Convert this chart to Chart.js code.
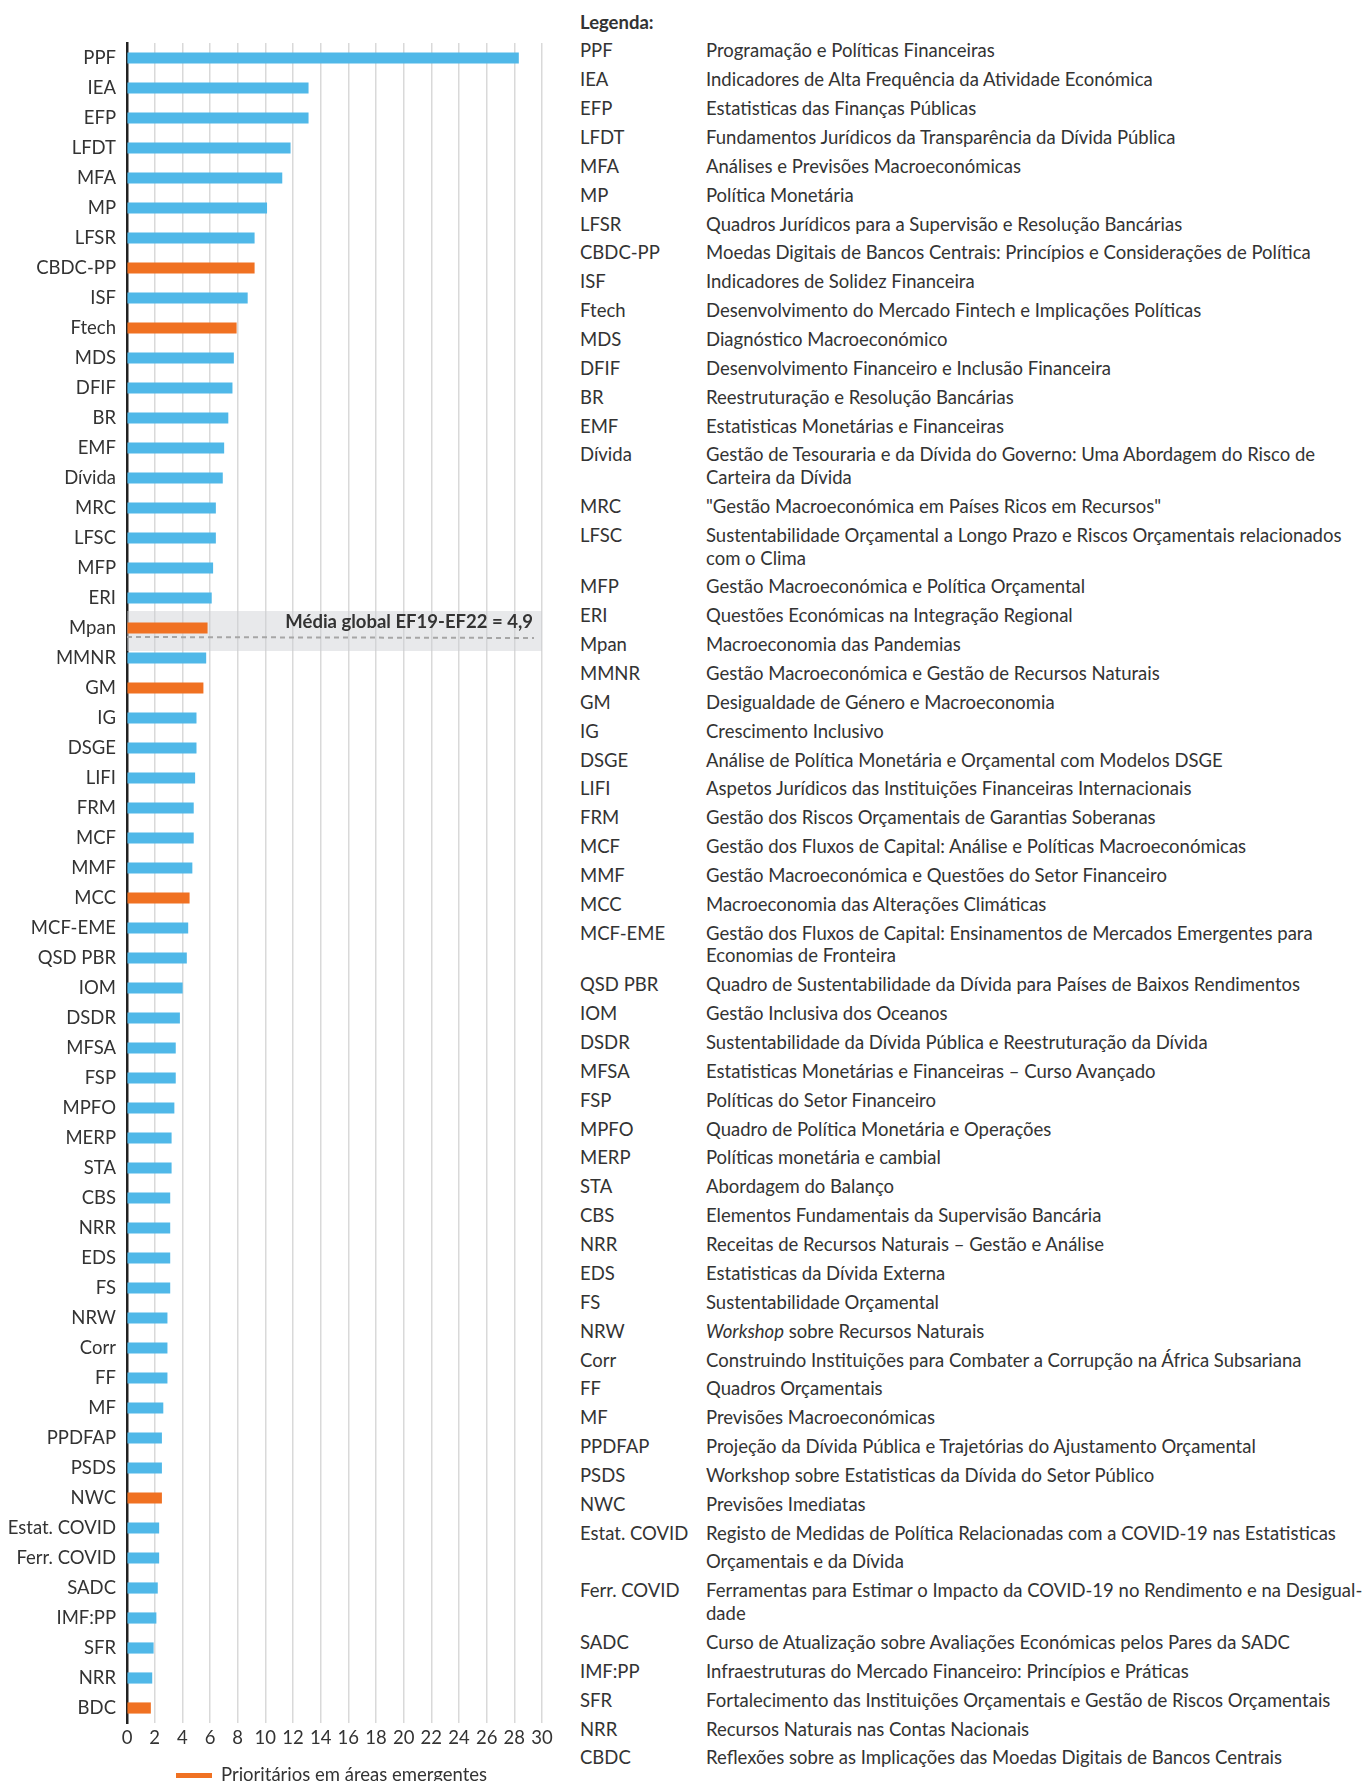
<!DOCTYPE html>
<html lang="pt">
<head>
    <meta charset="UTF-8">
    <title>Cursos por área</title>
    <script src="https://cdn.jsdelivr.net/npm/chart.js"></script>
    <style>
        body {
            margin: 0;
            background: #fff;
            font-family: Lato, "Noto Sans", sans-serif;
            color: #333;
        }

        .page {
            position: relative;
            width: 1364px;
            height: 1781px;
            overflow: hidden;
        }

        .chart-box {
            position: absolute;
            left: 0;
            top: 0;
        }

        .key {
            position: absolute;
            left: 580px;
            top: 7.5px;
            font-size: 18.5px;
        }

        .key-row {
            display: flex;
            line-height: 22.7px;
            padding: 3.08px 0;
            white-space: pre;
        }

        .key-row.tall {
            line-height: 28.86px;
            padding: 0;
        }

        .key-code {
            width: 126px;
            flex: none;
        }

        .key-title {
            font-weight: bold;
        }

        .note {
            position: absolute;
            left: 176px;
            top: 1761px;
            font-size: 18.5px;
            line-height: 26px;
            white-space: nowrap;
        }

        .note span.swatch {
            display: inline-block;
            width: 36px;
            height: 5px;
            background: #f07122;
            vertical-align: middle;
            margin-right: 9px;
            position: relative;
            top: -1px;
        }
    </style>
</head>
<body>
<div class="page">
    <div class="chart-box">
        <canvas id="courseChart" width="575" height="1781"></canvas>
    </div>
    <div class="key" id="key"></div>
    <div class="note"><span class="swatch"></span>Prioritários em áreas emergentes</div>
</div>

<script>
    // dados
    const courses = ['PPF', 'IEA', 'EFP', 'LFDT', 'MFA', 'MP', 'LFSR', 'CBDC-PP', 'ISF', 'Ftech',
        'MDS', 'DFIF', 'BR', 'EMF', 'Dívida', 'MRC', 'LFSC', 'MFP', 'ERI', 'Mpan',
        'MMNR', 'GM', 'IG', 'DSGE', 'LIFI', 'FRM', 'MCF', 'MMF', 'MCC', 'MCF-EME',
        'QSD PBR', 'IOM', 'DSDR', 'MFSA', 'FSP', 'MPFO', 'MERP', 'STA', 'CBS', 'NRR',
        'EDS', 'FS', 'NRW', 'Corr', 'FF', 'MF', 'PPDFAP', 'PSDS', 'NWC', 'Estat. COVID',
        'Ferr. COVID', 'SADC', 'IMF:PP', 'SFR', 'NRR', 'BDC'];

    const values = [28.3, 13.1, 13.1, 11.8, 11.2, 10.1, 9.2, 9.2, 8.7, 7.9,
        7.7, 7.6, 7.3, 7.0, 6.9, 6.4, 6.4, 6.2, 6.1, 5.8,
        5.7, 5.5, 5.0, 5.0, 4.9, 4.8, 4.8, 4.7, 4.5, 4.4,
        4.3, 4.0, 3.8, 3.5, 3.5, 3.4, 3.2, 3.2, 3.1, 3.1,
        3.1, 3.1, 2.9, 2.9, 2.9, 2.6, 2.5, 2.5, 2.5, 2.3,
        2.3, 2.2, 2.1, 1.9, 1.8, 1.7];

    const priorityCourses = ['CBDC-PP', 'Ftech', 'Mpan', 'GM', 'MCC', 'NWC', 'BDC'];

    const xTicks = [0, 30, 2]; // min, max, passo

    const meanLabel = 'Média global EF19-EF22 = 4,9';
    const meanCourse = 'Mpan';

    // legenda (texto)
    const keyCodes = ['PPF', 'IEA', 'EFP', 'LFDT', 'MFA', 'MP', 'LFSR', 'CBDC-PP', 'ISF', 'Ftech',
        'MDS', 'DFIF', 'BR', 'EMF', 'Dívida', 'MRC', 'LFSC', 'MFP', 'ERI', 'Mpan',
        'MMNR', 'GM', 'IG', 'DSGE', 'LIFI', 'FRM', 'MCF', 'MMF', 'MCC', 'MCF-EME',
        'QSD PBR', 'IOM', 'DSDR', 'MFSA', 'FSP', 'MPFO', 'MERP', 'STA', 'CBS', 'NRR',
        'EDS', 'FS', 'NRW', 'Corr', 'FF', 'MF', 'PPDFAP', 'PSDS', 'NWC', 'Estat. COVID',
        'Ferr. COVID', 'SADC', 'IMF:PP', 'SFR', 'NRR', 'CBDC'];

    const keyNames = [
        'Programação e Políticas Financeiras',
        'Indicadores de Alta Frequência da Atividade Económica',
        'Estatisticas das Finanças Públicas',
        'Fundamentos Jurídicos da Transparência da Dívida Pública',
        'Análises e Previsões Macroeconómicas',
        'Política Monetária',
        'Quadros Jurídicos para a Supervisão e Resolução Bancárias',
        'Moedas Digitais de Bancos Centrais: Princípios e Considerações de Política',
        'Indicadores de Solidez Financeira',
        'Desenvolvimento do Mercado Fintech e Implicações Políticas',
        'Diagnóstico Macroeconómico',
        'Desenvolvimento Financeiro e Inclusão Financeira',
        'Reestruturação e Resolução Bancárias',
        'Estatisticas Monetárias e Financeiras',
        'Gestão de Tesouraria e da Dívida do Governo: Uma Abordagem do Risco de\nCarteira da Dívida',
        '"Gestão Macroeconómica em Países Ricos em Recursos"',
        'Sustentabilidade Orçamental a Longo Prazo e Riscos Orçamentais relacionados\ncom o Clima',
        'Gestão Macroeconómica e Política Orçamental',
        'Questões Económicas na Integração Regional',
        'Macroeconomia das Pandemias',
        'Gestão Macroeconómica e Gestão de Recursos Naturais',
        'Desigualdade de Género e Macroeconomia',
        'Crescimento Inclusivo',
        'Análise de Política Monetária e Orçamental com Modelos DSGE',
        'Aspetos Jurídicos das Instituições Financeiras Internacionais',
        'Gestão dos Riscos Orçamentais de Garantias Soberanas',
        'Gestão dos Fluxos de Capital: Análise e Políticas Macroeconómicas',
        'Gestão Macroeconómica e Questões do Setor Financeiro',
        'Macroeconomia das Alterações Climáticas',
        'Gestão dos Fluxos de Capital: Ensinamentos de Mercados Emergentes para\nEconomias de Fronteira',
        'Quadro de Sustentabilidade da Dívida para Países de Baixos Rendimentos',
        'Gestão Inclusiva dos Oceanos',
        'Sustentabilidade da Dívida Pública e Reestruturação da Dívida',
        'Estatisticas Monetárias e Financeiras – Curso Avançado',
        'Políticas do Setor Financeiro',
        'Quadro de Política Monetária e Operações',
        'Políticas monetária e cambial',
        'Abordagem do Balanço',
        'Elementos Fundamentais da Supervisão Bancária',
        'Receitas de Recursos Naturais – Gestão e Análise',
        'Estatisticas da Dívida Externa',
        'Sustentabilidade Orçamental',
        '<i>Workshop</i> sobre Recursos Naturais',
        'Construindo Instituições para Combater a Corrupção na África Subsariana',
        'Quadros Orçamentais',
        'Previsões Macroeconómicas',
        'Projeção da Dívida Pública e Trajetórias do Ajustamento Orçamental',
        'Workshop sobre Estatisticas da Dívida do Setor Público',
        'Previsões Imediatas',
        'Registo de Medidas de Política Relacionadas com a COVID-19 nas Estatisticas\nOrçamentais e da Dívida',
        'Ferramentas para Estimar o Impacto da COVID-19 no Rendimento e na Desigual-\ndade',
        'Curso de Atualização sobre Avaliações Económicas pelos Pares da SADC',
        'Infraestruturas do Mercado Financeiro: Princípios e Práticas',
        'Fortalecimento das Instituições Orçamentais e Gestão de Riscos Orçamentais',
        'Recursos Naturais nas Contas Nacionais',
        'Reflexões sobre as Implicações das Moedas Digitais de Bancos Centrais'
    ];

    const BLUE = '#50b8e8';
    const ORANGE = '#f07122';
    const TEXT = '#333333';

    // legenda à direita
    const key = document.getElementById('key');
    let html = '<div class="key-row"><span class="key-title">Legenda:</span></div>';
    keyCodes.forEach((code, i) => {
        const cls = code === 'Estat. COVID' ? 'key-row tall' : 'key-row';
        html += '<div class="' + cls + '"><span class="key-code">' + code + '</span><span>' + keyNames[i] + '</span></div>';
    });
    key.innerHTML = html;

    // faixa da média global
    const meanBand = {
        id: 'meanBand',
        beforeDatasetsDraw(chart) {
            const {ctx, chartArea, scales} = chart;
            const yc = scales.y.getPixelForValue(courses.indexOf(meanCourse));
            ctx.save();
            ctx.fillStyle = 'rgba(205, 207, 210, 0.45)';
            ctx.fillRect(chartArea.left, yc - 17, chartArea.right - chartArea.left, 40);
            ctx.restore();
        },
        afterDatasetsDraw(chart) {
            const {ctx, chartArea, scales} = chart;
            const yc = scales.y.getPixelForValue(courses.indexOf(meanCourse));
            ctx.save();
            ctx.strokeStyle = '#a6a6a6';
            ctx.lineWidth = 2;
            ctx.setLineDash([5, 4]);
            ctx.beginPath();
            ctx.moveTo(chartArea.left, yc + 9);
            ctx.lineTo(chartArea.right - 8, yc + 10);
            ctx.stroke();
            ctx.setLineDash([]);
            ctx.fillStyle = TEXT;
            ctx.font = 'bold 18.5px Lato';
            ctx.textAlign = 'right';
            ctx.textBaseline = 'middle';
            ctx.fillText(meanLabel, chartArea.right - 9, yc - 6);
            ctx.restore();
        }
    };

    const ctx = document.getElementById('courseChart').getContext('2d');
    new Chart(ctx, {
        type: 'bar',
        data: {
            labels: courses,
            datasets: [{
                label: 'Cursos',
                data: values,
                backgroundColor: courses.map(c => priorityCourses.includes(c) ? ORANGE : BLUE),
                barThickness: 10.5,
                borderWidth: 0
            }]
        },
        options: {
            indexAxis: 'y',
            responsive: false,
            animation: false,
            layout: {
                padding: {top: 43, right: 33, bottom: 0, left: 0}
            },
            plugins: {
                legend: {display: false},
                tooltip: {enabled: false}
            },
            scales: {
                x: {
                    min: xTicks[0],
                    max: xTicks[1],
                    ticks: {
                        stepSize: xTicks[2],
                        color: TEXT,
                        font: {family: 'Lato', size: 18.5},
                        padding: 4,
                        maxRotation: 0,
                        autoSkip: false
                    },
                    grid: {
                        color: c => c.tick && c.tick.value === 0 ? 'rgba(0,0,0,0)' : '#d9d9d9',
                        lineWidth: 1.5,
                        drawTicks: false
                    },
                    border: {display: false},
                    afterFit: s => { s.height = 58; }
                },
                y: {
                    ticks: {
                        color: TEXT,
                        font: {family: 'Lato', size: 18.5},
                        padding: 11,
                        autoSkip: false
                    },
                    grid: {display: false, drawTicks: false},
                    border: {display: true, color: '#222', width: 2.5},
                    afterFit: s => { s.width = 127; }
                }
            }
        },
        plugins: [meanBand]
    });
</script>
</body>
</html>
